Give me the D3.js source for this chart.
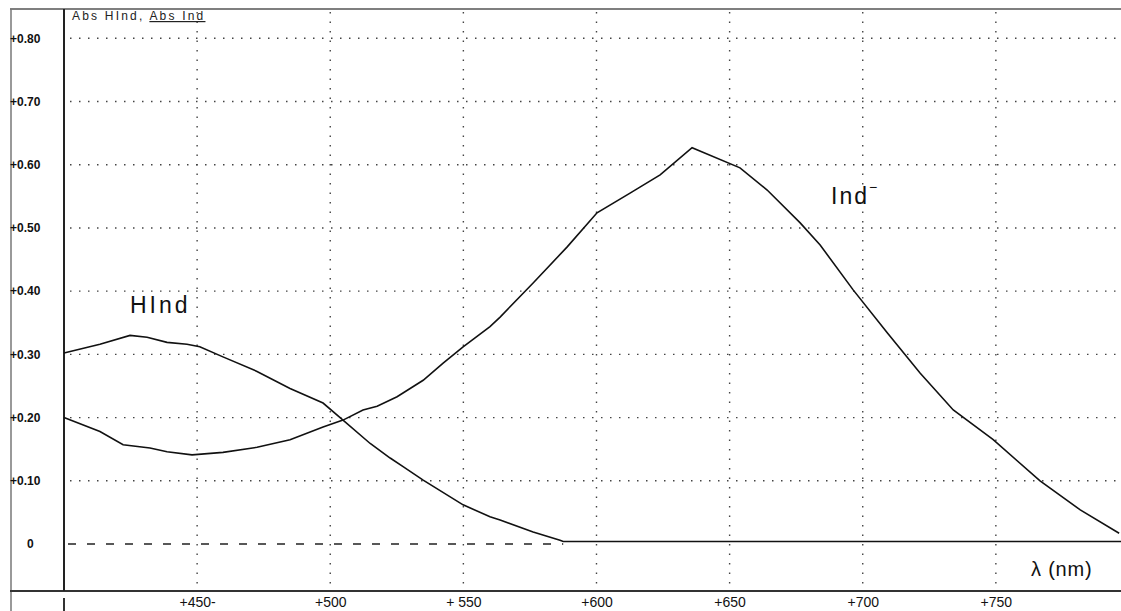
<!DOCTYPE html>
<html>
<head>
<meta charset="utf-8">
<script src="https://cdn.jsdelivr.net/npm/d3@7/dist/d3.min.js"></script>
<style>
  html, body { margin: 0; padding: 0; background: #fff; }
  svg { display: block; }
</style>
</head>
<body>
<div class="chart"></div>
<script>
// wavelength (nm) and absorbance
var indNm = [400, 413.5, 422.2, 432.3, 438.7, 448.1, 459.7, 472.5, 484.9, 497.3, 504.8, 512.3, 517.6, 525.1,
  534.9, 542.4, 549.9, 560.0, 563.8, 576.2, 589.0, 600.2, 612.6, 623.9, 635.9, 653.9, 664.1, 676.5, 684.0,
  696.4, 709.2, 721.6, 734.0, 749.0, 766.6, 781.7, 796.3];
var indAbs = [0.200, 0.178, 0.157, 0.152, 0.146, 0.141, 0.145, 0.153, 0.165, 0.185, 0.196, 0.212, 0.218, 0.233,
  0.259, 0.286, 0.312, 0.344, 0.359, 0.413, 0.470, 0.524, 0.555, 0.584, 0.627, 0.595, 0.560, 0.508, 0.473,
  0.402, 0.334, 0.270, 0.212, 0.165, 0.100, 0.054, 0.017];

var hindNm = [400, 413.5, 424.8, 431.2, 438.7, 446.2, 451.0, 459.7, 472.5, 484.9, 497.3, 504.8, 515.0, 522.5,
  527.5, 534.9, 549.9, 560.0, 563.8, 576.2, 586.3, 587.5, 797];
var hindAbs = [0.302, 0.316, 0.330, 0.327, 0.319, 0.316, 0.312, 0.296, 0.273, 0.246, 0.223, 0.196, 0.159, 0.136,
  0.122, 0.101, 0.062, 0.043, 0.038, 0.019, 0.006, 0.004, 0.004];

var xTicks = [450, 500, 550, 600, 650, 700, 750];
var xTickLabels = ['+450-', '+500', '+ 550', '+600', '+650', '+700', '+750'];
var yTicks = [0, 0.1, 0.2, 0.3, 0.4, 0.5, 0.6, 0.7, 0.8];
var yTickLabels = ['0', '+0.10', '+0.20', '+0.30', '+0.40', '+0.50', '+0.60', '+0.70', '+0.80'];

draw();

function draw() {
    var width = 1121;
    var height = 611;
    var left = 64;
    var top = 9;
    var bottom = 591;

    var svg = d3.select('.chart')
        .append('svg')
        .attr('width', width)
        .attr('height', height);

    var x = d3.scaleLinear().domain([400, 797]).range([left, width]);
    var y = d3.scaleLinear().domain([0, 0.8]).range([544, 38.3]);

    // dotted grid
    svg.append('g')
        .selectAll('line')
        .data(yTicks.slice(1))
        .enter()
        .append('line')
        .attr('x1', left + 6)
        .attr('x2', width)
        .attr('y1', function (d) { return y(d); })
        .attr('y2', function (d) { return y(d); })
        .attr('stroke', '#444')
        .attr('stroke-width', 1.4)
        .attr('stroke-dasharray', '1.5,7.5');

    svg.append('g')
        .selectAll('line')
        .data(xTicks)
        .enter()
        .append('line')
        .attr('x1', function (d) { return x(d); })
        .attr('x2', function (d) { return x(d); })
        .attr('y1', top + 3)
        .attr('y2', bottom - 2)
        .attr('stroke', '#444')
        .attr('stroke-width', 1.4)
        .attr('stroke-dasharray', '1.5,8');

    // dashed zero line up to where Hind flattens out
    svg.append('line')
        .attr('x1', x(400) + 4)
        .attr('x2', x(587.5))
        .attr('y1', y(0))
        .attr('y2', y(0))
        .attr('stroke', '#222')
        .attr('stroke-width', 1.6)
        .attr('stroke-dasharray', '8,11');

    // frame
    svg.append('line')
        .attr('x1', 10).attr('x2', width)
        .attr('y1', top).attr('y2', top)
        .attr('stroke', '#555').attr('stroke-width', 1.6);
    svg.append('line')
        .attr('x1', 11).attr('x2', 11)
        .attr('y1', top).attr('y2', height)
        .attr('stroke', '#777').attr('stroke-width', 1.5);
    svg.append('line')
        .attr('x1', 10).attr('x2', width)
        .attr('y1', bottom).attr('y2', bottom)
        .attr('stroke', '#333').attr('stroke-width', 2);
    svg.append('line')
        .attr('x1', left).attr('x2', left)
        .attr('y1', top).attr('y2', bottom)
        .attr('stroke', '#222').attr('stroke-width', 2);
    svg.append('line')
        .attr('x1', left).attr('x2', left)
        .attr('y1', 598).attr('y2', height)
        .attr('stroke', '#333').attr('stroke-width', 2);

    // axes (labels only)
    var xAxis = d3.axisBottom(x)
        .tickValues(xTicks)
        .tickSize(0)
        .tickPadding(6)
        .tickFormat(function (d, i) { return xTickLabels[i]; });

    var gx = svg.append('g')
        .attr('transform', 'translate(0,' + bottom + ')')
        .call(xAxis);
    gx.select('.domain').remove();
    gx.selectAll('text')
        .attr('fill', '#111')
        .style('font-family', 'Arial, "Liberation Sans", sans-serif')
        .style('font-size', '14px');

    var yAxis = d3.axisLeft(y)
        .tickValues(yTicks)
        .tickSize(0)
        .tickFormat(function (d, i) { return yTickLabels[i]; });

    var gy = svg.append('g')
        .attr('transform', 'translate(' + left + ',0)')
        .call(yAxis);
    gy.select('.domain').remove();
    gy.selectAll('text')
        .attr('text-anchor', 'start')
        .attr('x', function (d) { return d === 0 ? -37 : -54; })
        .attr('fill', '#111')
        .style('font-family', '"Liberation Sans Narrow", "Liberation Sans", Arial, sans-serif')
        .style('font-weight', 'bold')
        .style('font-size', '12px');

    // curves
    var line = d3.line()
        .x(function (d) { return x(d[0]); })
        .y(function (d) { return y(d[1]); });

    svg.append('path')
        .datum(d3.zip(hindNm, hindAbs))
        .attr('d', line)
        .attr('fill', 'none')
        .attr('stroke', '#111')
        .attr('stroke-width', 1.6);

    svg.append('path')
        .datum(d3.zip(indNm, indAbs))
        .attr('d', line)
        .attr('fill', 'none')
        .attr('stroke', '#111')
        .attr('stroke-width', 1.6);

    // labels
    var title = svg.append('text')
        .attr('x', 72)
        .attr('y', 20)
        .attr('fill', '#222')
        .style('font-family', 'Arial, "Liberation Sans", sans-serif')
        .style('font-size', '12px')
        .style('letter-spacing', '2.2px');
    title.append('tspan').text('Abs HInd, ');
    title.append('tspan')
        .style('text-decoration', 'underline')
        .text('Abs Ind');

    svg.append('text')
        .attr('x', 130)
        .attr('y', 313)
        .attr('fill', '#111')
        .style('font-family', 'Arial, "Liberation Sans", sans-serif')
        .style('font-size', '23px')
        .style('letter-spacing', '3px')
        .text('HInd');

    var ind = svg.append('text')
        .attr('x', 831)
        .attr('y', 204)
        .attr('fill', '#111')
        .style('font-family', 'Arial, "Liberation Sans", sans-serif')
        .style('font-size', '23px')
        .style('letter-spacing', '2px');
    ind.append('tspan').text('Ind');
    ind.append('tspan')
        .attr('dy', -12)
        .style('font-size', '14px')
        .text('\u2212');

    svg.append('text')
        .attr('x', 1031)
        .attr('y', 576)
        .attr('fill', '#111')
        .style('font-family', 'Arial, "Liberation Sans", sans-serif')
        .style('font-size', '20px')
        .style('letter-spacing', '0.8px')
        .text('\u03bb (nm)');
}
</script>
</body>
</html>
